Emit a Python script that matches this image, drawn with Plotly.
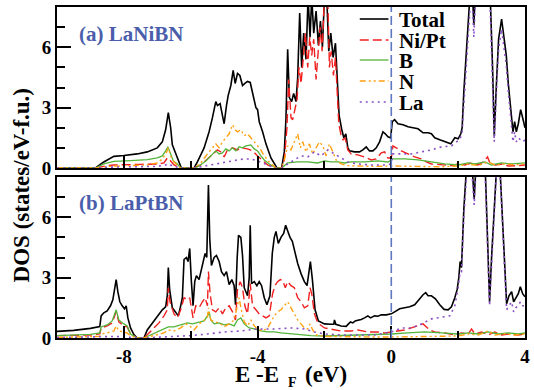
import plotly.graph_objects as go

# ---------------- data (energy in eV, DOS in states/eV-f.u.) ----------------
series_names = ["Total", "Ni/Pt", "B", "N", "La"]

total_a = [(-10,0),(-8.85,0),(-8.6,0.3),(-8.3,0.58),(-8.0,0.62),(-7.6,0.7),(-7.3,0.8),(-7.0,1.0),(-6.85,1.3),(-6.75,1.9),
           (-6.67,2.75),(-6.6,2.0),(-6.55,1.15),(-6.45,0.7),(-6.35,0.3),(-6.28,0),(-5.9,0),(-5.8,0.3),(-5.6,1.0),(-5.45,1.8),
           (-5.35,2.5),(-5.25,3.3),(-5.2,3.1),(-5.12,3.2),(-5.05,2.6),(-5.0,2.2),(-4.93,3.1),(-4.88,3.6),(-4.8,4.1),(-4.73,4.85),
           (-4.67,4.2),(-4.6,4.7),(-4.53,4.6),(-4.45,4.1),(-4.38,4.2),(-4.3,4.3),(-4.22,4.25),(-4.12,3.6),(-4.05,3.0),(-4.0,2.9),
           (-3.95,2.3),(-3.85,1.8),(-3.75,1.2),(-3.6,0.5),(-3.42,0),(-3.28,0),(-3.2,0.8),(-3.15,2.5),(-3.1,5.9),(-3.05,3.5),
           (-2.98,3.3),(-2.92,3.7),(-2.85,3.3),(-2.8,4.5),(-2.74,7.7),(-2.68,5.0),(-2.62,6.7),(-2.55,5.4),(-2.49,8.5),(-2.43,6.5),
           (-2.38,8.5),(-2.32,6.7),(-2.25,7.8),(-2.18,6.1),(-2.12,7.3),(-2.06,6.0),(-2.0,8.5),(-1.93,8.5),(-1.87,5.8),(-1.81,6.7),
           (-1.74,5.5),(-1.67,6.2),(-1.61,4.4),(-1.56,2.6),(-1.48,1.9),(-1.42,1.5),(-1.36,1.7),(-1.3,1.0),(-1.25,0.85),(-1.1,0.8),
           (-0.95,0.8),(-0.85,0.9),(-0.75,1.05),(-0.65,0.85),(-0.55,0.85),(-0.45,1.0),(-0.35,1.3),(-0.25,1.8),(-0.18,1.7),(-0.1,1.55),
           (-0.02,1.5),(0.03,2.3),(0.1,2.4),(0.2,2.2),(0.35,2.15),(0.5,2.05),(0.65,2.0),(0.8,1.95),(0.95,1.75),(1.1,1.75),
           (1.2,1.7),(1.3,1.5),(1.45,1.4),(1.6,1.3),(1.78,1.2),(1.9,1.5),(2.0,1.45),(2.08,1.7),(2.12,2.0),(2.17,3.8),
           (2.22,5.0),(2.28,6.4),(2.35,8.5),(2.42,9),(2.47,7.1),(2.52,9),(2.65,10),(2.8,10),(2.95,9),(3.03,5),
           (3.08,1.6),(3.14,4),(3.21,6.4),(3.3,7.4),(3.37,6.4),(3.44,5.6),(3.5,4.2),(3.56,3.1),(3.6,2.2),(3.64,1.8),
           (3.69,2.3),(3.74,1.8),(3.8,2.2),(3.87,2.9),(3.93,2.5),(4.0,2.0)]

ni_a = [(-10,0),(-8.85,0),(-8.5,0.12),(-8.3,0.15),(-7.5,0.18),(-7.0,0.2),(-6.8,0.25),(-6.7,0.5),(-6.6,0.35),(-6.5,0.15),
        (-6.3,0),(-5.9,0),(-5.7,0.15),(-5.5,0.45),(-5.3,0.75),(-5.2,0.9),(-5.1,0.8),(-5.0,0.55),(-4.9,0.9),(-4.75,1.0),
        (-4.6,0.9),(-4.5,1.0),(-4.3,0.95),(-4.15,0.85),(-4.0,0.6),(-3.85,0.35),(-3.7,0.15),(-3.45,0),(-3.28,0),(-3.2,0.4),
        (-3.12,2.0),(-3.07,4.4),(-3.0,2.5),(-2.95,2.4),(-2.88,2.9),(-2.82,3.4),(-2.76,5.0),(-2.7,4.2),(-2.63,5.5),(-2.57,6.7),
        (-2.5,5.0),(-2.44,6.5),(-2.38,5.6),(-2.32,6.4),(-2.25,4.4),(-2.19,5.7),(-2.13,7.0),(-2.07,5.8),(-2.0,8.5),(-1.9,8.5),
        (-1.85,5.0),(-1.8,5.8),(-1.73,4.6),(-1.67,5.5),(-1.62,3.8),(-1.57,2.2),(-1.5,1.6),(-1.44,1.4),(-1.38,1.5),(-1.3,0.9),
        (-1.2,0.7),(-1.0,0.65),(-0.8,0.55),(-0.6,0.4),(-0.45,0.45),(-0.3,0.75),(-0.2,0.8),(-0.1,0.5),(0.0,0.5),(0.05,1.1),
        (0.15,1.0),(0.3,0.85),(0.5,0.7),(0.7,0.55),(0.9,0.45),(1.05,0.3),(1.2,0.2),(1.5,0.15),(1.8,0.12),(2.0,0.2),
        (2.2,0.15),(2.4,0.25),(2.6,0.15),(2.75,0.3),(2.88,0.55),(2.95,0.25),(3.1,0.15),(3.3,0.2),(3.5,0.1),(3.8,0.12),(4.0,0.15)]

b_a = [(-10,0),(-8.85,0),(-8.6,0.2),(-8.3,0.33),(-7.8,0.37),(-7.3,0.42),(-7.0,0.5),(-6.85,0.6),(-6.75,0.85),(-6.68,1.05),
       (-6.6,0.7),(-6.52,0.35),(-6.4,0.2),(-6.3,0),(-5.9,0),(-5.75,0.1),(-5.55,0.35),(-5.4,0.6),(-5.25,0.85),(-5.15,0.7),
       (-5.05,0.75),(-4.95,0.95),(-4.85,0.85),(-4.75,1.0),(-4.65,0.85),(-4.55,1.05),(-4.45,1.0),(-4.35,1.1),(-4.2,1.15),(-4.1,0.95),
       (-4.0,0.85),(-3.9,0.6),(-3.8,0.4),(-3.65,0.2),(-3.45,0),(-3.28,0),(-3.2,0.1),(-3.1,0.25),(-2.8,0.3),(-2.5,0.3),
       (-2.2,0.25),(-2.0,0.35),(-1.8,0.3),(-1.6,0.3),(-1.4,0.25),(-1.2,0.3),(-0.8,0.3),(-0.4,0.35),(-0.1,0.3),(0.05,0.45),
       (0.4,0.45),(0.8,0.4),(1.2,0.3),(1.6,0.2),(2.0,0.15),(2.3,0.25),(2.5,0.2),(2.8,0.3),(3.0,0.15),(3.3,0.25),(3.6,0.2),(4.0,0.25)]

n_a = [(-10,0),(-8.85,0),(-8.5,0.08),(-8.0,0.1),(-7.3,0.15),(-7.0,0.25),(-6.85,0.45),(-6.72,0.8),(-6.67,1.0),(-6.6,0.6),
       (-6.5,0.3),(-6.4,0.15),(-6.3,0),(-5.9,0),(-5.7,0.25),(-5.5,0.7),(-5.35,1.0),(-5.25,1.2),(-5.15,1.0),(-5.05,1.3),
       (-4.95,1.5),(-4.85,1.7),(-4.75,2.15),(-4.67,1.9),(-4.6,1.8),(-4.5,1.9),(-4.4,1.6),(-4.3,1.7),(-4.2,1.5),(-4.1,1.3),
       (-4.0,1.1),(-3.9,0.9),(-3.8,0.6),(-3.65,0.3),(-3.45,0),(-3.28,0),(-3.2,0.4),(-3.1,1.1),(-3.0,0.9),(-2.9,1.3),
       (-2.8,1.7),(-2.72,1.0),(-2.65,1.3),(-2.55,0.8),(-2.45,1.2),(-2.35,0.7),(-2.25,1.0),(-2.15,1.3),(-2.05,1.1),(-1.95,0.6),
       (-1.85,1.2),(-1.75,0.8),(-1.65,0.4),(-1.5,0.2),(-1.3,0.12),(-1.0,0.1),(-0.5,0.08),(0.0,0.1),(0.5,0.08),(1.0,0.07),
       (1.5,0.06),(2.0,0.1),(2.3,0.2),(2.6,0.12),(2.9,0.3),(3.1,0.15),(3.4,0.2),(3.7,0.15),(4.0,0.2)]

la_a = [(-10,0),(-8.85,0),(-8.5,0.04),(-7.5,0.06),(-7.0,0.08),(-6.75,0.15),(-6.67,0.22),(-6.55,0.1),(-6.3,0),(-5.9,0),
        (-5.6,0.1),(-5.3,0.2),(-5.0,0.3),(-4.8,0.35),(-4.6,0.4),(-4.4,0.45),(-4.2,0.45),(-4.0,0.35),(-3.8,0.2),(-3.6,0.08),
        (-3.45,0),(-3.28,0),(-3.1,0.2),(-2.9,0.4),(-2.7,0.6),(-2.5,0.55),(-2.3,0.8),(-2.1,0.6),(-1.9,0.9),(-1.7,0.7),
        (-1.5,0.5),(-1.3,0.3),(-1.0,0.2),(-0.6,0.15),(-0.2,0.15),(0.0,0.2),(0.05,0.7),(0.3,0.7),(0.6,0.7),(0.9,0.8),
        (1.2,0.9),(1.5,1.05),(1.8,1.1),(1.95,1.3),(2.05,1.4),(2.12,1.8),(2.17,3.3),(2.22,4.6),(2.28,6.0),(2.35,7.8),
        (2.42,8.5),(2.47,6.5),(2.52,8.5),(2.65,9.5),(2.8,9.5),(2.95,8.5),(3.03,4.5),(3.08,1.3),(3.14,3.6),(3.21,5.9),
        (3.3,6.9),(3.37,6.0),(3.44,5.1),(3.5,3.8),(3.56,2.6),(3.6,1.7),(3.64,1.3),(3.69,1.8),(3.74,1.3),(3.8,1.5),
        (3.87,1.4),(3.93,1.3),(4.0,1.4)]

total_b = [(-10,0.33),(-9.5,0.38),(-9.0,0.48),(-8.72,0.57),(-8.68,1.1),(-8.6,1.25),(-8.5,1.35),(-8.4,1.6),(-8.33,1.9),(-8.27,2.4),
           (-8.23,2.9),(-8.18,2.3),(-8.12,1.8),(-8.05,1.6),(-7.98,1.45),(-7.93,1.6),(-7.88,1.0),(-7.8,0.5),(-7.7,0.17),(-7.6,0),
           (-7.4,0),(-7.3,0.4),(-7.15,0.75),(-7.0,1.1),(-6.85,1.4),(-6.75,1.55),(-6.7,2.1),(-6.67,3.5),(-6.63,2.4),(-6.55,1.5),
           (-6.45,1.25),(-6.37,1.1),(-6.3,1.6),(-6.25,2.0),(-6.2,3.9),(-6.13,4.0),(-6.08,3.8),(-6.03,4.45),(-5.98,2.8),(-5.93,1.6),
           (-5.88,2.8),(-5.83,3.1),(-5.75,2.9),(-5.65,3.6),(-5.57,4.2),(-5.52,4.0),(-5.47,7.6),(-5.43,4.9),(-5.38,3.6),(-5.3,4.0),
           (-5.23,4.1),(-5.15,3.8),(-5.08,3.3),(-5.0,3.1),(-4.93,3.3),(-4.85,2.65),(-4.77,2.9),(-4.7,2.6),(-4.66,1.65),(-4.61,4.0),
           (-4.57,5.1),(-4.5,5.0),(-4.45,4.1),(-4.4,2.5),(-4.3,2.1),(-4.25,3.0),(-4.22,5.6),(-4.18,2.7),(-4.1,2.8),(-4.02,2.6),
           (-3.95,2.8),(-3.88,2.6),(-3.8,2.0),(-3.72,1.65),(-3.63,2.1),(-3.56,4.2),(-3.5,5.0),(-3.45,5.3),(-3.38,4.7),(-3.3,5.0),
           (-3.22,5.2),(-3.16,5.6),(-3.1,5.3),(-3.03,5.0),(-2.96,4.8),(-2.88,4.2),(-2.8,3.7),(-2.7,3.2),(-2.6,2.8),(-2.52,2.6),
           (-2.45,3.3),(-2.42,3.8),(-2.36,2.9),(-2.28,1.4),(-2.18,0.85),(-2.0,0.7),(-1.8,0.68),(-1.72,0.68),(-1.7,0.9),(-1.66,0.68),
           (-1.5,0.6),(-1.35,0.58),(-1.28,0.7),(-1.22,0.8),(-1.15,0.75),(-1.08,0.85),(-1.0,0.88),(-0.9,0.92),(-0.8,1.0),(-0.7,1.1),
           (-0.62,1.0),(-0.5,1.1),(-0.4,1.08),(-0.3,1.15),(-0.15,1.15),(0.0,1.2),(0.1,1.3),(0.25,1.45),(0.4,1.5),(0.55,1.55),
           (0.7,1.65),(0.85,1.95),(0.95,2.15),(1.03,2.25),(1.1,2.1),(1.2,2.1),(1.32,1.95),(1.45,1.65),(1.58,1.42),(1.7,1.4),
           (1.8,1.55),(1.9,2.0),(1.97,2.4),(2.02,3.0),(2.06,3.8),(2.1,3.5),(2.17,6.4),(2.25,8.5),(2.35,9.5),(2.43,8.2),
           (2.48,6.9),(2.53,8.5),(2.65,10),(2.8,9),(2.88,5),(2.94,1.8),(3.0,4.0),(3.07,6.5),(3.15,8.5),(3.25,8.5),
           (3.33,5.8),(3.4,3.0),(3.45,1.7),(3.52,2.1),(3.6,2.3),(3.66,1.8),(3.72,2.0),(3.8,2.2),(3.86,2.55),(3.93,2.2),(4.0,2.05)]

pt_b = [(-10,0.12),(-9.0,0.15),(-8.72,0.2),(-8.68,0.5),(-8.5,0.6),(-8.35,0.75),(-8.23,1.3),(-8.15,0.8),(-8.0,0.6),(-7.9,0.55),
        (-7.8,0.2),(-7.65,0.05),(-7.6,0),(-7.4,0),(-7.25,0.25),(-7.1,0.5),(-6.95,0.75),(-6.8,1.1),(-6.7,1.4),(-6.67,2.5),
        (-6.62,1.8),(-6.5,1.2),(-6.4,1.0),(-6.3,1.4),(-6.2,2.0),(-6.08,1.9),(-6.03,2.0),(-5.97,1.4),(-5.93,1.0),(-5.85,1.6),
        (-5.75,1.5),(-5.65,1.8),(-5.57,2.0),(-5.5,1.6),(-5.47,3.3),(-5.42,2.2),(-5.35,1.4),(-5.25,1.3),(-5.15,1.5),(-5.05,1.2),
        (-4.95,1.5),(-4.85,1.6),(-4.75,1.3),(-4.66,0.9),(-4.6,2.4),(-4.52,2.8),(-4.45,2.5),(-4.38,1.6),(-4.3,1.2),(-4.22,2.7),
        (-4.15,1.6),(-4.05,1.4),(-3.95,1.2),(-3.85,1.1),(-3.75,1.0),(-3.65,1.1),(-3.55,2.2),(-3.48,2.6),(-3.4,2.8),(-3.32,2.9),
        (-3.25,2.85),(-3.17,2.5),(-3.1,2.8),(-3.0,2.6),(-2.9,2.5),(-2.8,2.0),(-2.7,1.8),(-2.6,1.5),(-2.5,1.6),(-2.43,2.5),
        (-2.38,2.2),(-2.3,1.2),(-2.2,0.75),(-2.0,0.5),(-1.8,0.45),(-1.5,0.35),(-1.2,0.35),(-1.0,0.4),(-0.7,0.3),(-0.4,0.3),
        (-0.2,0.25),(0.0,0.3),(0.2,0.35),(0.4,0.4),(0.6,0.5),(0.8,0.6),(0.95,0.7),(1.05,0.55),(1.15,0.4),(1.3,0.3),
        (1.6,0.25),(1.9,0.15),(2.1,0.25),(2.3,0.2),(2.4,0.45),(2.5,0.2),(2.7,0.3),(2.9,0.15),(3.1,0.3),(3.3,0.15),
        (3.5,0.2),(3.8,0.15),(4.0,0.2)]

b_b = [(-10,0.12),(-9.0,0.18),(-8.72,0.25),(-8.68,0.55),(-8.5,0.65),(-8.35,0.85),(-8.23,1.4),(-8.15,0.9),(-8.0,0.7),(-7.9,0.6),
       (-7.8,0.2),(-7.65,0.03),(-7.6,0),(-7.4,0),(-7.2,0.15),(-7.0,0.3),(-6.8,0.45),(-6.67,0.55),(-6.5,0.55),(-6.3,0.65),
       (-6.1,0.75),(-5.95,0.7),(-5.8,0.75),(-5.6,0.85),(-5.5,1.1),(-5.45,1.3),(-5.4,0.9),(-5.3,0.7),(-5.15,0.75),(-5.0,0.65),
       (-4.85,0.7),(-4.7,0.6),(-4.6,0.9),(-4.5,1.0),(-4.4,0.7),(-4.25,0.5),(-4.1,0.45),(-3.9,0.35),(-3.7,0.3),(-3.5,0.3),
       (-3.3,0.25),(-3.0,0.2),(-2.7,0.15),(-2.4,0.12),(-2.0,0.1),(-1.5,0.12),(-1.0,0.15),(-0.5,0.18),(0.0,0.2),(0.5,0.25),
       (1.0,0.3),(1.5,0.25),(2.0,0.2),(2.3,0.25),(2.6,0.2),(2.9,0.3),(3.2,0.2),(3.5,0.25),(3.8,0.2),(4.0,0.25)]

n_b = [(-10,0.03),(-9.0,0.05),(-8.72,0.08),(-8.68,0.2),(-8.5,0.25),(-8.3,0.35),(-8.23,0.6),(-8.15,0.35),(-8.0,0.3),(-7.9,0.25),
       (-7.8,0.1),(-7.6,0),(-7.4,0),(-7.2,0.08),(-7.0,0.15),(-6.8,0.25),(-6.67,0.4),(-6.5,0.35),(-6.3,0.5),(-6.15,0.7),
       (-6.03,0.6),(-5.9,0.4),(-5.75,0.7),(-5.6,0.9),(-5.5,1.0),(-5.47,1.5),(-5.4,0.9),(-5.3,0.8),(-5.15,0.75),(-5.0,0.55),
       (-4.85,0.7),(-4.7,0.9),(-4.6,1.6),(-4.55,2.0),(-4.5,1.5),(-4.4,0.8),(-4.3,0.6),(-4.2,0.9),(-4.1,0.6),(-4.0,0.45),
       (-3.85,0.35),(-3.7,0.5),(-3.6,0.8),(-3.5,1.1),(-3.4,1.3),(-3.3,1.4),(-3.2,1.6),(-3.1,1.8),(-3.0,1.5),(-2.9,1.2),
       (-2.8,0.9),(-2.7,0.7),(-2.6,0.5),(-2.5,0.45),(-2.43,0.7),(-2.35,0.4),(-2.25,0.15),(-2.0,0.08),(-1.5,0.06),(-1.0,0.06),
       (-0.5,0.05),(0.0,0.05),(0.5,0.06),(1.0,0.06),(1.5,0.08),(2.0,0.1),(2.3,0.2),(2.6,0.15),(2.9,0.35),(3.1,0.15),
       (3.4,0.2),(3.7,0.15),(4.0,0.2)]

la_b = [(-10,0.02),(-8.7,0.04),(-8.23,0.08),(-7.8,0.03),(-7.6,0),(-7.4,0),(-7.0,0.04),(-6.5,0.08),(-6.0,0.12),(-5.5,0.2),
        (-5.0,0.3),(-4.5,0.35),(-4.0,0.45),(-3.5,0.45),(-3.0,0.5),(-2.6,0.45),(-2.3,0.3),(-2.0,0.2),(-1.5,0.15),(-1.0,0.15),
        (-0.5,0.15),(0.0,0.3),(0.3,0.5),(0.6,0.5),(0.9,0.7),(1.2,0.95),(1.5,1.05),(1.75,1.1),(1.9,1.6),(2.0,2.5),
        (2.06,3.3),(2.1,3.3),(2.17,6.0),(2.25,8.0),(2.35,9.0),(2.43,7.8),(2.48,6.6),(2.53,8.2),(2.65,9.5),(2.8,8.5),
        (2.88,4.5),(2.94,1.6),(3.0,3.6),(3.07,6.0),(3.15,8.3),(3.25,8.3),(3.33,5.3),(3.4,2.6),(3.45,1.4),(3.52,1.6),
        (3.6,1.8),(3.66,1.3),(3.72,1.5),(3.8,1.6),(3.86,1.8),(3.93,1.6),(4.0,1.6)]

panel_labels = ["(a) LaNiBN", "(b) LaPtBN"]
x_tickvals = [-8, -4, 0, 4]
x_ticktext = ["-8", "-4", "0", "4"]
y_tickvals = [0, 3, 6]
y_ticktext = ["0", "3", "6"]
fermi_level = 0

# ---------------- styles ----------------
FONT = "Liberation Serif"
styles = {
    "Total": dict(color="black", width=1.6, dash="solid"),
    "Ni/Pt": dict(color="#f02020", width=1.4, dash="9px,4px"),
    "B": dict(color="#52b43a", width=1.3, dash="solid"),
    "N": dict(color="#ffa010", width=1.4, dash="6px,3px,2px,3px,2px,3px"),
    "La": dict(color="#8a4fc4", width=1.6, dash="2px,4px"),
}

fig = go.Figure()

panels = [
    ("x", "y", [total_a, ni_a, b_a, n_a, la_a]),
    ("x2", "y2", [total_b, pt_b, b_b, n_b, la_b]),
]
for xa, ya, data in panels:
    for name, pts in zip(series_names, data):
        fig.add_trace(go.Scatter(
            x=[p[0] for p in pts], y=[p[1] for p in pts], mode="lines",
            name=name, showlegend=False, xaxis=xa, yaxis=ya,
            line=styles[name], hoverinfo="skip"))

W, H = 534, 390
ML, MR, MT, MB = 57, 4, 7, 52
PW, PH = W - ML - MR, H - MT - MB


def px2x(px):
    return (px - ML) / PW


def py2y(py):
    return (H - MB - py) / PH


common_x = dict(range=[-10, 4], showgrid=False, zeroline=False, showline=True, linecolor="black",
                linewidth=2, mirror=True, ticks="inside", ticklen=12, tickwidth=2, tickcolor="black",
                tickmode="array", tickvals=x_tickvals, ticktext=x_ticktext,
                minor=dict(tickmode="array", tickvals=[-6, -2, 2], ticks="inside", ticklen=7,
                           tickwidth=2, tickcolor="black"),
                tickfont=dict(family=FONT, size=19, color="black", weight="bold"))
common_y = dict(range=[0, 8], showgrid=False, zeroline=False, showline=True, linecolor="black",
                linewidth=2, mirror=True, ticks="inside", ticklen=14, tickwidth=2, tickcolor="black",
                tickmode="array", tickvals=y_tickvals, ticktext=y_ticktext,
                minor=dict(tickmode="array", tickvals=[1, 2, 4, 5, 7], ticks="inside", ticklen=8,
                           tickwidth=2, tickcolor="black"),
                tickfont=dict(family=FONT, size=19, color="black", weight="bold"))

fig.update_layout(
    width=W, height=H,
    margin=dict(l=ML, r=MR, t=MT, b=MB),
    plot_bgcolor="white", paper_bgcolor="white",
    xaxis=dict(common_x, domain=[0, 1], anchor="y", showticklabels=False),
    yaxis=dict(common_y, domain=[py2y(168), 1], anchor="x"),
    xaxis2=dict(common_x, domain=[0, 1], anchor="y2", showticklabels=True),
    yaxis2=dict(common_y, domain=[0, py2y(177)], anchor="x2"),
    showlegend=False,
)

# Fermi level
for ya in ["y", "y2"]:
    fig.add_shape(type="line", xref="x" if ya == "y" else "x2", yref=f"{ya} domain",
                  x0=fermi_level, x1=fermi_level, y0=0, y1=1,
                  line=dict(color="#5f78c0", width=1.6, dash="9px,4px"))

# panel labels
for lbl, py in zip(panel_labels, [34, 203]):
    fig.add_annotation(text=lbl, x=px2x(77), y=py2y(py), xref="paper", yref="paper",
                       xanchor="left", yanchor="middle", showarrow=False,
                       font=dict(family=FONT, size=21, color="#4a5eab", weight="bold"))

# legend (manual)
leg_y = [19, 40, 60, 81, 102]
for name, py in zip(series_names, leg_y):
    st = styles[name]
    fig.add_shape(type="line", xref="paper", yref="paper",
                  x0=px2x(363), x1=px2x(392), y0=py2y(py), y1=py2y(py),
                  line=dict(color=st["color"], width=st["width"], dash=st["dash"]))
    fig.add_annotation(text=name, x=px2x(401), y=py2y(py + 1), xref="paper", yref="paper",
                       xanchor="left", yanchor="middle", showarrow=False,
                       font=dict(family=FONT, size=21, color="black", weight="bold"))

# axis titles
tfont = dict(family=FONT, size=23, color="black", weight="bold")
fig.add_annotation(text="DOS (states/eV-f.u.)", x=px2x(21), y=py2y(185), xref="paper", yref="paper",
                   textangle=-90, showarrow=False, xanchor="center", yanchor="middle", font=tfont)
fig.add_annotation(text="E -E", x=px2x(283), y=py2y(374), xref="paper", yref="paper",
                   xanchor="right", yanchor="middle", showarrow=False, font=tfont)
fig.add_annotation(text="F", x=px2x(295), y=py2y(382), xref="paper", yref="paper",
                   xanchor="center", yanchor="middle", showarrow=False,
                   font=dict(family=FONT, size=14, color="black", weight="bold"))
fig.add_annotation(text="(eV)", x=px2x(306), y=py2y(374), xref="paper", yref="paper",
                   xanchor="left", yanchor="middle", showarrow=False, font=tfont)

fig.write_html("out.html", config={"displayModeBar": False},
               post_script="document.body.style.margin='0';")
